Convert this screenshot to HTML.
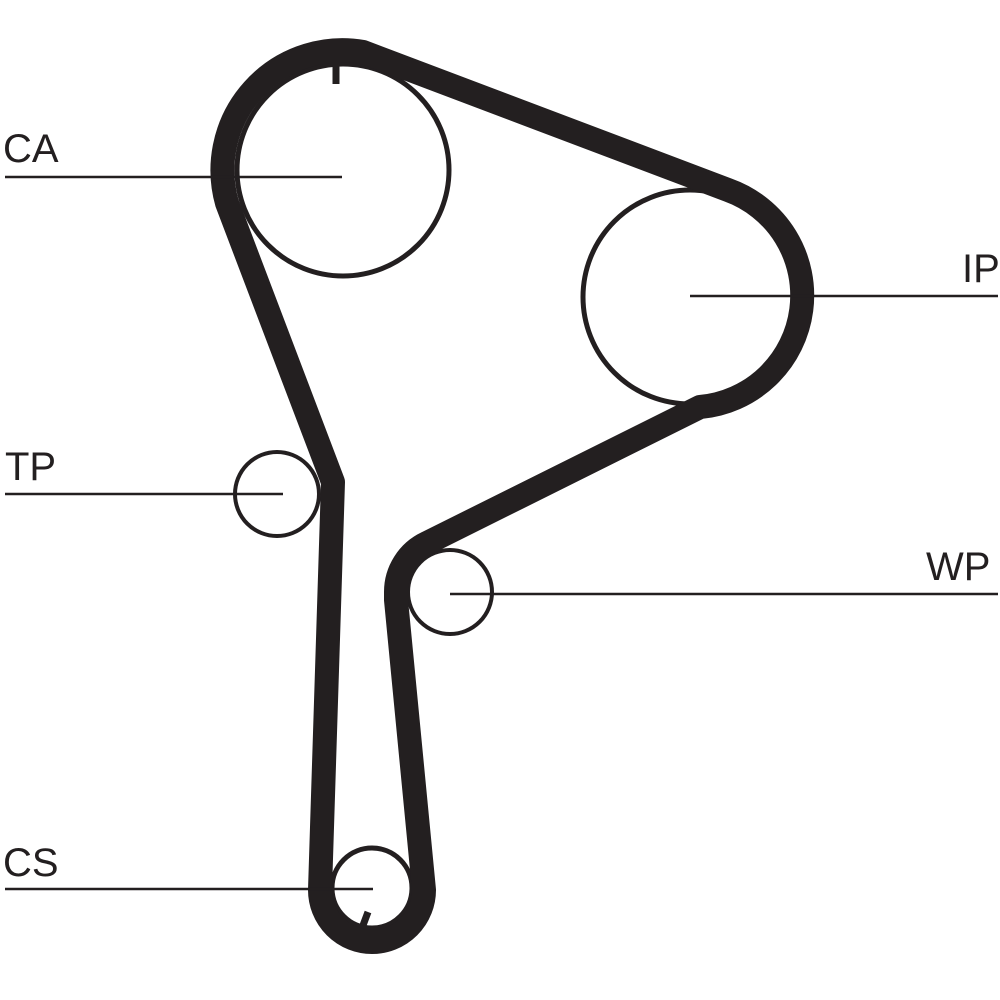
<!DOCTYPE html>
<html><head><meta charset="utf-8"><style>
html,body{margin:0;padding:0;background:#fff;}
svg{display:block}
text{font-family:"Liberation Sans",sans-serif;font-size:40px;fill:#231f20}
</style></head><body>
<svg width="1000" height="1000" viewBox="0 0 1000 1000" xmlns="http://www.w3.org/2000/svg">
<g fill="none" stroke="#231f20">
<circle cx="343" cy="170" r="106" stroke-width="5"/>
<circle cx="690" cy="297" r="107" stroke-width="5"/>
<circle cx="277" cy="494" r="42" stroke-width="4"/>
<circle cx="450" cy="592" r="42" stroke-width="4"/>
<circle cx="372" cy="888" r="40" stroke-width="5"/>
<path stroke-width="24" stroke-linejoin="round" d="M363,52 A120 120 0 0 0 227,203 L333,482 L320,890 A52 52 0 0 0 424,890 L396,600 L396,592 A54 54 0 0 1 427,543 L700,407 A112 112 0 0 0 728,190 Z"/>
<g stroke-width="2.5">
<line x1="5" y1="177" x2="342" y2="177"/>
<line x1="690" y1="296" x2="998" y2="296"/>
<line x1="5" y1="494" x2="283" y2="494"/>
<line x1="450" y1="594" x2="998" y2="594"/>
<line x1="5" y1="889" x2="373" y2="889"/>
</g>
<line x1="336" y1="60" x2="336" y2="84" stroke-width="7"/>
<line x1="368" y1="912" x2="362" y2="928" stroke-width="7"/>
</g>
<text x="3" y="162">CA</text>
<text x="962" y="282">IP</text>
<text x="5" y="480">TP</text>
<text x="926" y="580">WP</text>
<text x="3" y="876">CS</text>
</svg>
</body></html>
